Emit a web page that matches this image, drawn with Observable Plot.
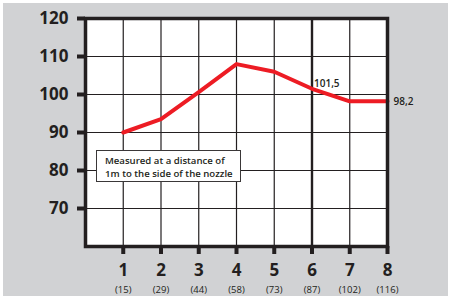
<!DOCTYPE html>
<html><head><meta charset="utf-8">
<script src="https://cdn.jsdelivr.net/npm/d3@7"></script>
<script src="https://cdn.jsdelivr.net/npm/@observablehq/plot@0.6"></script>
<style>
html,body{margin:0;padding:0;background:#fff;width:450px;height:297px;overflow:hidden}
#wrap{position:absolute;left:3px;top:3px;width:445px;height:293px;background:#d1d2d4}
#note{position:absolute;left:96px;top:150px;width:145px;height:32px;box-sizing:border-box;background:#fff;border:1.2px solid #3a3738;font:600 9.6px "Open Sans",sans-serif;color:#231f20;padding:3px 0 0 8px;line-height:13px;white-space:nowrap}
</style></head>
<body><div id="wrap"></div><div id="note">Measured at a distance of<br>1m to the side of the nozzle</div>
<script>
const positions = [1, 2, 3, 4, 5, 6, 7, 8];
const levels = [90, 93.5, 100.6, 108, 106, 101.5, 98.2, 98.2];
const flowLabels = ["(15)", "(29)", "(44)", "(58)", "(73)", "(87)", "(102)", "(116)"];
const yTicks = [70, 80, 90, 100, 110, 120];
const peakLabel = [{x: 6, y: 101.5, t: "101,5"}];
const endLabel = [{x: 8, y: 98.2, t: "98,2"}];

const data = positions.map((p, i) => ({x: p, y: levels[i]}));
const ink = "#231f20";
const chart = Plot.plot({
  width: 445, height: 293,
  marginLeft: 82, marginRight: 61, marginTop: 15, marginBottom: 50,
  style: {fontFamily: "'Open Sans', sans-serif", color: ink, background: "transparent"},
  x: {domain: [0, 8]},
  y: {domain: [60, 120]},
  marks: [
    Plot.frame({fill: "white", stroke: null}),
    Plot.gridY(yTicks.slice(0, 5), {stroke: ink, strokeOpacity: 1, strokeWidth: 1.2}),
    Plot.gridX(positions.slice(0, 7), {stroke: ink, strokeOpacity: 1, strokeWidth: 1.2}),
    Plot.ruleX([6], {stroke: ink, strokeWidth: 2.4}),
    Plot.line(data, {x: "x", y: "y", stroke: "#ed1c24", strokeWidth: 4, strokeLinejoin: "round"}),
    Plot.frame({stroke: ink, strokeWidth: 3.5}),
    Plot.axisY(yTicks, {tickSize: 8, tickPadding: 9, strokeWidth: 4, stroke: ink, fontSize: 17, fontWeight: "bold", fill: ink, label: null}),
    Plot.axisX(positions, {tickSize: 8, tickPadding: 9, strokeWidth: 4, stroke: ink, fontSize: 17, fontWeight: "bold", fill: ink, label: null}),
    Plot.text(positions, {x: d => d, frameAnchor: "bottom", dy: 46, text: (d, i) => flowLabels[i], fontSize: 9.5, fill: ink}),
    Plot.text(peakLabel, {x: "x", y: "y", text: "t", textAnchor: "start", dx: 2, dy: -5, fontSize: 10, fontWeight: 600, fill: ink}),
    Plot.text(endLabel, {x: "x", y: "y", text: "t", textAnchor: "start", dx: 6, dy: 0, fontSize: 10, fontWeight: 600, fill: ink})
  ]
});
document.getElementById("wrap").append(chart);
</script></body></html>
